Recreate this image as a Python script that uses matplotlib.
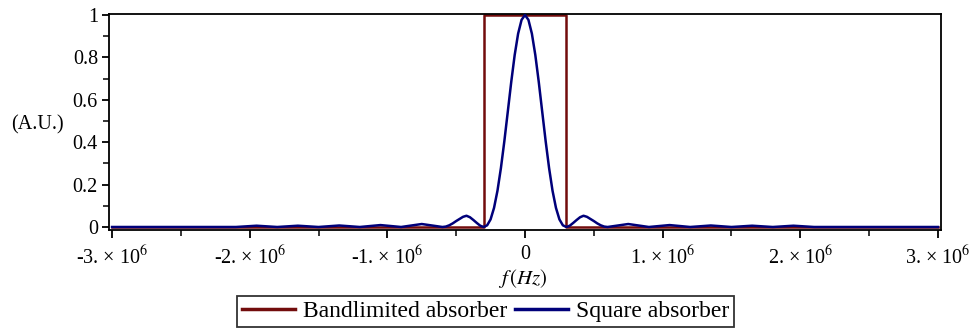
import matplotlib
matplotlib.use("Agg")
import matplotlib.pyplot as plt
from matplotlib.ticker import MultipleLocator, FuncFormatter

plt.rcParams['font.family'] = ['Liberation Serif', 'DejaVu Serif']
plt.rcParams['mathtext.fontset'] = 'stix'

# Bandlimited absorber (rectangle), f in Hz
band_f = [-3.0e6, -0.3e6, -0.3e6, 0.3e6, 0.3e6, 3.0e6]
band_a = [0.0, 0.0, 1.0, 1.0, 0.0, 0.0]

# Square absorber spectrum (f in units of 1e6 Hz)
sq_f_mhz = [-3.0, -2.1, -1.95, -1.8, -1.65, -1.5, -1.35, -1.2, -1.05, -0.9,
            -0.75, -0.6, -0.575, -0.55, -0.525, -0.5, -0.475, -0.45, -0.425,
            -0.4, -0.375, -0.35, -0.325, -0.3, -0.275, -0.25, -0.225, -0.2,
            -0.175, -0.15, -0.125, -0.1, -0.075, -0.05, -0.025, 0.0,
            0.025, 0.05, 0.075, 0.1, 0.125, 0.15, 0.175, 0.2, 0.225, 0.25,
            0.275, 0.3, 0.325, 0.35, 0.375, 0.4, 0.425, 0.45, 0.475, 0.5,
            0.525, 0.55, 0.575, 0.6, 0.75, 0.9, 1.05, 1.2, 1.35, 1.5, 1.65,
            1.8, 1.95, 2.1, 3.0]
sq_a = [0.0, 0.0, 0.006, 0.0, 0.006, 0.0, 0.007, 0.0, 0.009, 0.0,
        0.014, 0.0, 0.002, 0.008, 0.017, 0.028, 0.038, 0.048, 0.053,
        0.046, 0.033, 0.019, 0.006, 0.0, 0.008, 0.036, 0.090, 0.171,
        0.278, 0.405, 0.544, 0.684, 0.811, 0.912, 0.977, 1.0,
        0.977, 0.912, 0.811, 0.684, 0.544, 0.405, 0.278, 0.171, 0.090, 0.036,
        0.008, 0.0, 0.006, 0.019, 0.033, 0.046, 0.053, 0.048, 0.038, 0.028,
        0.017, 0.008, 0.002, 0.0, 0.014, 0.0, 0.009, 0.0, 0.007, 0.0, 0.006,
        0.0, 0.006, 0.0, 0.0]
sq_f = [v * 1e6 for v in sq_f_mhz]

xticks = [-3e6, -2e6, -1e6, 0, 1e6, 2e6, 3e6]
yticks = [0, 0.2, 0.4, 0.6, 0.8, 1.0]
ytick_labels = ['0', '0.2', '0.4', '0.6', '0.8', '1']

RED = '#720c0c'
BLUE = '#00007a'

W, H = 971, 329
fig = plt.figure(figsize=(W / 100, H / 100), dpi=100)
ax = fig.add_axes([109 / W, 1 - 230 / H, (941 - 109) / W, (230 - 14) / H])

ax.plot(band_f, band_a, color=RED, lw=1.8, label='Bandlimited absorber', zorder=2)
ax.plot(sq_f, sq_a, color=BLUE, lw=1.8, label='Square absorber', zorder=3)

ax.set_xlim(-3.022e6, 3.022e6)
ax.set_ylim(-0.0142, 1.0047)

def xfmt(v, pos):
    if abs(v) < 1:
        return '0'
    n = int(round(v / 1e6))
    return '%d. × 10$^{6}$' % n

ax.set_xticks(xticks)
ax.xaxis.set_major_formatter(FuncFormatter(xfmt))
ax.xaxis.set_minor_locator(MultipleLocator(0.5e6))
ax.set_yticks(yticks)
ax.set_yticklabels(ytick_labels)
ax.yaxis.set_minor_locator(MultipleLocator(0.1))

ax.tick_params(axis='x', which='major', length=6, width=1.3, labelsize=14.5,
               direction='out', pad=5)
ax.tick_params(axis='y', which='major', length=5, width=1.3, labelsize=14.5,
               direction='out', pad=3)
ax.tick_params(axis='both', which='minor', length=4, width=1.1, direction='out')
for sp in ax.spines.values():
    sp.set_linewidth(1.3)
    sp.set_color('black')

fig.text(37 / W, 1 - 125 / H, '(A.U.)', fontsize=14.5, ha='center', va='center')
fig.text(523 / W, 1 - 279 / H, r'$f\,(Hz)$', fontsize=15, ha='center', va='center')

handles, labels = ax.get_legend_handles_labels()
leg = fig.legend(handles, labels, loc='upper center',
                 bbox_to_anchor=(485.5 / W, 1 - 296 / H), ncol=2,
                 frameon=True, fancybox=False, edgecolor='black', fontsize=17,
                 handlelength=2.25, columnspacing=0.34, handletextpad=0.34,
                 borderpad=0.2, borderaxespad=0)
leg.get_frame().set_linewidth(1.3)
for l in leg.get_lines():
    l.set_linewidth(2.5)

fig.savefig('out.png', dpi=100)
